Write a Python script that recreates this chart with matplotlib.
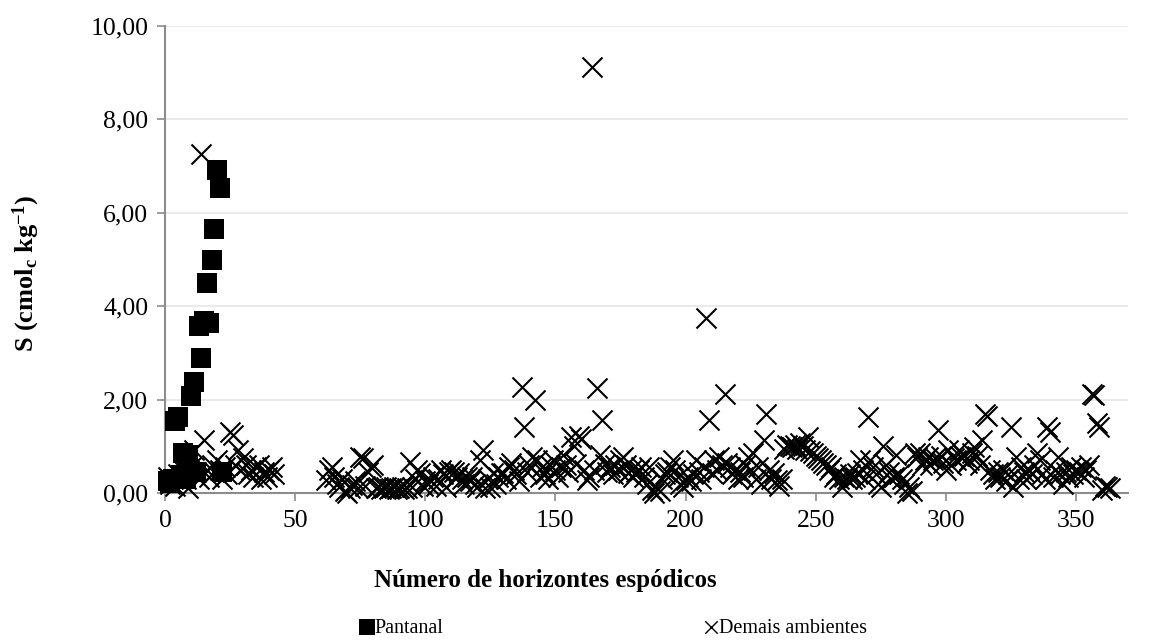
import matplotlib
matplotlib.use("Agg")
import matplotlib.pyplot as plt
from matplotlib.ticker import FuncFormatter

plt.rcParams['font.family'] = ['Liberation Serif', 'DejaVu Serif']
plt.rcParams['mathtext.fontset'] = 'custom'
plt.rcParams['mathtext.rm'] = 'Liberation Serif'
plt.rcParams['mathtext.bf'] = 'Liberation Serif:bold'
plt.rcParams['mathtext.it'] = 'Liberation Serif:italic'

# Pantanal series
pant_x = [1, 2, 3, 4, 5, 6, 7, 8, 9, 10, 11, 12, 13, 14, 15, 16, 17, 18, 19, 20, 21, 22]
pant_y = [0.25, 0.22, 0.30, 1.55, 1.62, 0.38, 0.85, 0.30, 0.82, 2.08, 2.38, 0.45,
          3.58, 2.90, 3.68, 4.50, 3.63, 5.00, 5.65, 6.92, 6.53, 0.45]

# Demais ambientes series
dem_x = (list(range(1, 43)) + list(range(62, 131)) + list(range(131, 201))
         + list(range(201, 301)) + list(range(301, 364)))
dem_y = [
    # 1-42
    0.35, 0.20, 0.30, 0.15, 0.40, 0.25, 0.50, 0.30, 0.10, 0.55, 0.92, 0.45, 0.30, 7.25,
    1.13, 0.50, 0.35, 0.60, 0.45, 0.70, 0.50, 0.30, 0.55, 0.40, 1.30, 1.25, 0.60, 0.92,
    0.50, 0.75, 0.60, 0.40, 0.50, 0.35, 0.55, 0.60, 0.30, 0.45, 0.35, 0.50, 0.55, 0.40,
    # 62-130
    0.28, 0.50, 0.56, 0.35, 0.20, 0.13, 0.30, 0.05, 0.00, 0.10, 0.17, 0.25, 0.10, 0.78,
    0.74, 0.15, 0.45, 0.56, 0.60, 0.10, 0.12, 0.08, 0.10, 0.12, 0.08, 0.10, 0.12, 0.08,
    0.10, 0.12, 0.08, 0.10, 0.66, 0.12, 0.30, 0.50, 0.43, 0.15, 0.25, 0.20, 0.28, 0.35,
    0.15, 0.30, 0.50, 0.40, 0.13, 0.45, 0.50, 0.45, 0.35, 0.43, 0.30, 0.20, 0.35, 0.25,
    0.35, 0.20, 0.13, 0.70, 0.92, 0.10, 0.30, 0.13, 0.43, 0.20, 0.35, 0.43, 0.43,
    # 131-200
    0.30, 0.55, 0.64, 0.50, 0.40, 0.25, 2.27, 1.42, 0.45, 0.60, 0.78, 1.99, 0.70, 0.35,
    0.55, 0.40, 0.30, 0.60, 0.70, 0.50, 0.35, 0.55, 0.81, 0.60, 0.45, 1.20, 1.00, 0.63,
    1.22, 1.15, 0.50, 0.28, 0.35, 9.13, 0.50, 2.25, 0.81, 1.57, 0.63, 0.45, 0.55, 0.40,
    0.60, 0.50, 0.70, 0.78, 0.60, 0.43, 0.50, 0.35, 0.45, 0.50, 0.55, 0.35, 0.20, 0.56,
    0.06, 0.00, 0.10, 0.05, 0.30, 0.40, 0.45, 0.56, 0.70, 0.50, 0.35, 0.20, 0.13, 0.28,
    # 201-300
    0.35, 0.25, 0.40, 0.70, 0.45, 0.30, 0.56, 3.75, 1.57, 0.43, 0.70, 0.50, 0.78, 0.60,
    2.13, 0.64, 0.56, 0.40, 0.50, 0.30, 0.45, 0.35, 0.60, 0.78, 0.50, 0.85, 0.30, 0.56,
    0.20, 1.13, 1.70, 0.50, 0.30, 0.43, 0.28, 0.15, 0.30, 0.95, 1.03, 1.00, 0.98, 1.02,
    0.95, 1.07, 1.00, 0.92, 1.20, 0.90, 0.85, 0.80, 0.75, 0.70, 0.65, 0.60, 0.50, 0.56,
    0.35, 0.40, 0.30, 0.13, 0.35, 0.30, 0.40, 0.30, 0.35, 0.43, 0.70, 0.50, 0.30, 1.63,
    0.70, 0.56, 0.40, 0.20, 0.13, 1.00, 0.60, 0.45, 0.30, 0.35, 0.81, 0.40, 0.30, 0.20,
    0.00, 0.13, 0.05, 0.85, 0.78, 0.85, 0.60, 0.70, 0.78, 0.60, 0.70, 0.75, 1.35, 0.80,
    0.65, 0.50,
    # 301-363
    0.92, 0.60, 0.75, 0.70, 0.92, 0.78, 0.80, 0.65, 0.70, 0.85, 0.99, 0.80, 0.60, 1.13,
    1.70, 1.65, 0.50, 0.40, 0.30, 0.45, 0.35, 0.50, 0.25, 0.40, 1.42, 0.13, 0.78, 0.30,
    0.56, 0.45, 0.30, 0.50, 0.40, 0.60, 0.85, 0.70, 0.40, 0.30, 1.42, 1.30, 0.35, 0.50,
    0.78, 0.40, 0.20, 0.45, 0.35, 0.55, 0.40, 0.50, 0.45, 0.56, 0.35, 0.50, 0.60, 2.13,
    2.10, 1.50, 1.42, 0.06, 0.15, 0.13, 0.10,
]

x_ticks = [0, 50, 100, 150, 200, 250, 300, 350]
y_ticks = [0, 2, 4, 6, 8, 10]

W, H = 1153, 642
fig = plt.figure(figsize=(W / 100, H / 100), dpi=100)
left, right, top, bottom = 165, 1128, 26, 493
ax = fig.add_axes([left / W, 1 - bottom / H, (right - left) / W, (bottom - top) / H])

ax.scatter(dem_x, dem_y, marker='x', s=14.4 ** 2, color='black', linewidths=1.5,
           label='Demais ambientes', zorder=3, clip_on=False)
ax.scatter(pant_x, pant_y, marker='s', s=14 ** 2, color='black', linewidths=0,
           label='Pantanal', zorder=4, clip_on=False)

ax.set_xlim(0, 370)
ax.set_ylim(0, 10)
ax.set_xticks(x_ticks)
ax.set_yticks(y_ticks)
ax.yaxis.set_major_formatter(FuncFormatter(lambda v, p: f"{v:.2f}".replace('.', ',')))
ax.grid(axis='y', color='#e6e6e6', linewidth=1.2, zorder=0)
ax.set_axisbelow(True)
for s in ['top', 'right']:
    ax.spines[s].set_visible(False)
for s in ['left', 'bottom']:
    ax.spines[s].set_color('#8c8c8c')
    ax.spines[s].set_linewidth(1.5)
ax.tick_params(axis='both', direction='out', length=6, width=1.2, color='#8c8c8c',
               labelsize=18.5, labelcolor='black', pad=6)

fig.text(26 / W, 1 - 273 / H, r'$\mathbf{S\ (cmol_{c}\ kg^{-1})}$', rotation=90,
         ha='center', va='center', fontsize=19)
fig.text(545 / W, 1 - 580 / H, 'Número de horizontes espódicos', ha='center', va='center',
         fontsize=18, fontweight='bold')

handles, labels = ax.get_legend_handles_labels()
order = [1, 0]
leg = fig.legend([handles[i] for i in order], [labels[i] for i in order], loc='center',
                 bbox_to_anchor=(614 / W, 1 - 628 / H), ncol=2, frameon=False,
                 handletextpad=0.1, columnspacing=13, handlelength=0.6, fontsize=14.5)
lh = leg.legend_handles
lh[0].set_sizes([11 ** 2])
lh[1].set_sizes([9 ** 2])
lh[1].set_linewidths([1.0])

fig.savefig('out.png', dpi=100)
